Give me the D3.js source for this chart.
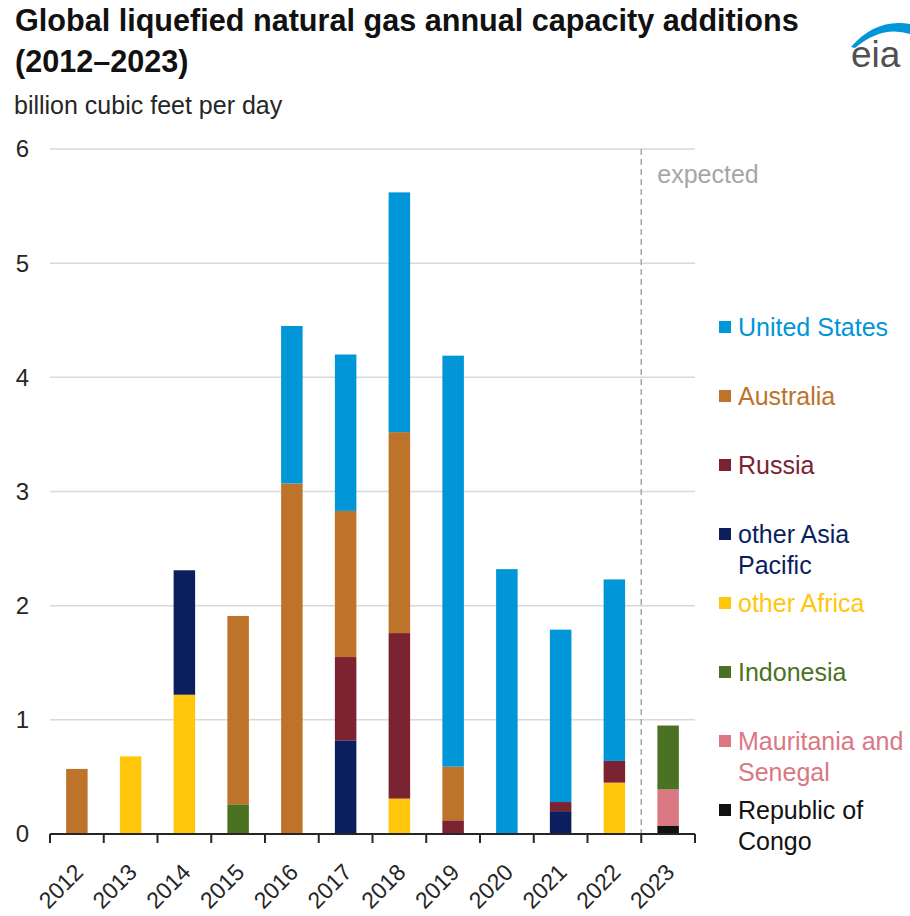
<!DOCTYPE html>
<html>
<head>
<meta charset="utf-8">
<script src="https://cdn.jsdelivr.net/npm/d3@7"></script>
<style>
  body { margin: 0; background: #fff; }
  svg { font-family: "Liberation Sans", Arial, sans-serif; }
  .grid line { stroke: #d9d9d9; stroke-width: 1.5; }
  .ylab text { fill: #262626; font-size: 24px; }
  .xlab text { fill: #262626; font-size: 23px; }
</style>
</head>
<body>
<svg width="910" height="916"></svg>
<script>
// data (billion cubic feet per day)
const years = ['2012', '2013', '2014', '2015', '2016', '2017', '2018', '2019', '2020', '2021', '2022', '2023'];
const unitedStates     = [0, 0, 0, 0, 1.38, 1.37, 2.10, 3.60, 2.32, 1.51, 1.59, 0];
const australia        = [0.57, 0, 0, 1.65, 3.07, 1.28, 1.76, 0.47, 0, 0, 0, 0];
const russia           = [0, 0, 0, 0, 0, 0.73, 1.45, 0.12, 0, 0.08, 0.19, 0];
const otherAsiaPacific = [0, 0, 1.09, 0, 0, 0.82, 0, 0, 0, 0.20, 0, 0];
const otherAfrica      = [0, 0.68, 1.22, 0, 0, 0, 0.31, 0, 0, 0, 0.45, 0];
const indonesia        = [0, 0, 0, 0.26, 0, 0, 0, 0, 0, 0, 0, 0.56];
const mauritaniaSenegal = [0, 0, 0, 0, 0, 0, 0, 0, 0, 0, 0, 0.32];
const congo            = [0, 0, 0, 0, 0, 0, 0, 0, 0, 0, 0, 0.07];

const seriesKeys = ['United States', 'Australia', 'Russia', 'other Asia Pacific',
                    'other Africa', 'Indonesia', 'Mauritania and Senegal', 'Republic of Congo'];
const seriesValues = [unitedStates, australia, russia, otherAsiaPacific,
                      otherAfrica, indonesia, mauritaniaSenegal, congo];
const legendLabels = [['United States'], ['Australia'], ['Russia'], ['other Asia', 'Pacific'],
                      ['other Africa'], ['Indonesia'], ['Mauritania and', 'Senegal'], ['Republic of', 'Congo']];
const colors = ['#0096d7', '#bd732a', '#7b2330', '#0b1f5e', '#ffc60b', '#4b7223', '#d97883', '#111111'];
const yTicks = [0, 1, 2, 3, 4, 5, 6];
const expectedFrom = '2023';

const svg = d3.select('svg');

// table for the stack
const table = years.map((yr, i) => {
    const row = { year: yr };
    seriesKeys.forEach((k, j) => { row[k] = seriesValues[j][i]; });
    return row;
});

const x = d3.scaleBand().domain(years).range([50, 695])
    .paddingInner(0.6).paddingOuter(0.3);
const y = d3.scaleLinear().domain([0, 6]).range([834, 149]);
const color = d3.scaleOrdinal().domain(seriesKeys).range(colors);

// titles
svg.append('text')
    .attr('x', 15).attr('y', 31)
    .attr('font-size', 30.6).attr('font-weight', 'bold').attr('fill', '#111')
    .text('Global liquefied natural gas annual capacity additions');
svg.append('text')
    .attr('x', 15).attr('y', 72)
    .attr('font-size', 30.6).attr('font-weight', 'bold').attr('fill', '#111')
    .text('(2012\u20132023)');
svg.append('text')
    .attr('x', 14).attr('y', 114)
    .attr('font-size', 25).attr('fill', '#262626')
    .text('billion cubic feet per day');

// eia logo
const logo = svg.append('g');
logo.append('path')
    .attr('d', 'M851,47 Q876,18 910,24 L910,34 Q882,25 855,48 Z')
    .attr('fill', '#0096d7');
logo.append('text')
    .attr('x', 851).attr('y', 67)
    .attr('font-size', 37).attr('fill', '#505050')
    .text('eia');

// gridlines
svg.append('g').attr('class', 'grid')
    .selectAll('line').data(yTicks.filter(d => d > 0))
    .join('line')
        .attr('x1', 50).attr('x2', 695)
        .attr('y1', d => y(d)).attr('y2', d => y(d));

// y labels
svg.append('g').attr('class', 'ylab')
    .selectAll('text').data(yTicks)
    .join('text')
        .attr('x', 29).attr('y', d => y(d))
        .attr('dy', '0.35em')
        .attr('text-anchor', 'end')
        .text(d => d);

// expected divider
const step = x.step();
const divX = x(expectedFrom) - step * 0.3;
svg.append('line')
    .attr('x1', divX).attr('x2', divX)
    .attr('y1', y(6)).attr('y2', y(0))
    .attr('stroke', '#a6a6a6').attr('stroke-width', 1.5)
    .attr('stroke-dasharray', '6,4');
svg.append('text')
    .attr('x', divX + 16).attr('y', 183)
    .attr('font-size', 25).attr('fill', '#a6a6a6')
    .text('expected');

// stacked bars
const stack = d3.stack().keys(seriesKeys.slice().reverse());
const layers = stack(table);

svg.append('g')
    .selectAll('g').data(layers)
    .join('g')
        .attr('fill', d => color(d.key))
    .selectAll('rect').data(d => d.filter(p => p[1] - p[0] > 0))
    .join('rect')
        .attr('x', d => x(d.data.year))
        .attr('width', x.bandwidth())
        .attr('y', d => y(d[1]))
        .attr('height', d => y(d[0]) - y(d[1]));

// x axis line and boundary ticks
const axisG = svg.append('g').attr('transform', `translate(0, ${y(0)})`);
axisG.append('line')
    .attr('x1', 50).attr('x2', 695)
    .attr('stroke', '#262626').attr('stroke-width', 2);
axisG.selectAll('.bt').data(d3.range(years.length + 1))
    .join('line')
        .attr('class', 'bt')
        .attr('x1', i => 50 + i * step).attr('x2', i => 50 + i * step)
        .attr('y1', 0).attr('y2', 9)
        .attr('stroke', '#262626').attr('stroke-width', 2);

// x labels
svg.append('g').attr('class', 'xlab')
    .attr('transform', `translate(0, ${y(0)})`)
    .call(d3.axisBottom(x).tickSize(0))
    .call(g => g.select('.domain').remove())
    .selectAll('text')
        .attr('font-family', null).attr('font-size', null)
        .attr('x', 0).attr('y', 0).attr('dy', '0.35em')
        .attr('text-anchor', 'end')
        .attr('transform', 'translate(2, 34) rotate(-45)');

// legend
const legend = svg.append('g')
    .selectAll('g').data(seriesKeys)
    .join('g')
        .attr('transform', (d, i) => `translate(719, ${327 + i * 69})`);
legend.append('rect')
    .attr('x', 0).attr('y', -6)
    .attr('width', 12).attr('height', 12)
    .attr('fill', d => color(d));
legend.append('text')
    .attr('fill', d => color(d))
    .attr('font-size', 25)
    .selectAll('tspan').data((d, i) => legendLabels[i])
    .join('tspan')
        .attr('x', 19)
        .attr('y', (d, j) => j * 31)
        .attr('dy', '0.35em')
        .text(d => d);
</script>
</body>
</html>
